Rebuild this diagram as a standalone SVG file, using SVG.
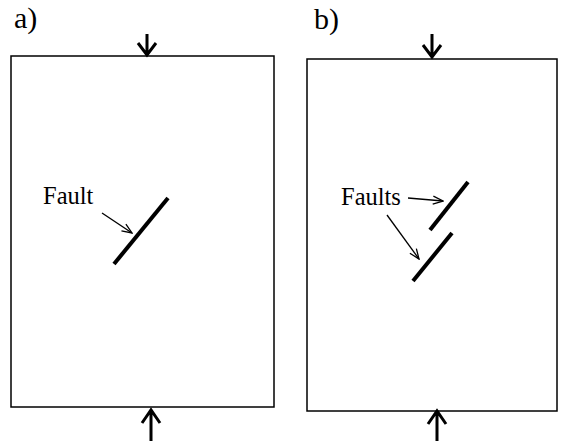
<svg xmlns="http://www.w3.org/2000/svg" width="567" height="441" viewBox="0 0 567 441">
<defs>
<style>
.box{fill:none;stroke:#000;stroke-width:1.5}
.load{fill:none;stroke:#000;stroke-width:3;stroke-linecap:butt;stroke-linejoin:miter}
.fault{stroke:#000;stroke-width:4}
.ptr{stroke:#000;stroke-width:1.3;fill:none}
text{font-family:"Liberation Serif","Times New Roman",serif;fill:#000}
.lbl{font-size:24.5px}
.pan{font-size:30px}
</style>
<marker id="ah" viewBox="0 0 12 10" refX="11" refY="5" markerWidth="12" markerHeight="10" markerUnits="userSpaceOnUse" orient="auto">
<path d="M1,1 L11,5 L1,9" fill="none" stroke="#000" stroke-width="1.3"/>
</marker>
</defs>
<rect width="567" height="441" fill="#fff"/>
<g id="panel-a">
<text class="pan" x="14" y="28">a)</text>
<rect class="box" x="11" y="56" width="263" height="351"/>
</g>
<g id="panel-b">
<text class="pan" x="314" y="29">b)</text>
<rect class="box" x="307" y="59" width="250" height="352"/>
</g>
<g id="fault-a">
<line class="fault" x1="114" y1="264" x2="168" y2="198"/>
<text class="lbl" x="43" y="204">Fault</text>
</g>
<g id="faults-b">
<line class="fault" x1="430" y1="230" x2="468" y2="182"/>
<line class="fault" x1="413" y1="281" x2="452" y2="233"/>
<text class="lbl" x="341" y="205">Faults</text>
</g>
<g id="connectors">
<path class="load" d="M147,34 V55 M138,43 L147,55 L156,43"/>
<path class="load" d="M151,441 V410 M142,423 L151,410 L160,423"/>
<path class="load" d="M432,34 V57 M423,45 L432,57 L441,45"/>
<path class="load" d="M437,441 V411 M428,424 L437,411 L446,424"/>
<line class="ptr" x1="102" y1="213" x2="132" y2="233" marker-end="url(#ah)"/>
<line class="ptr" x1="408" y1="198" x2="443" y2="201" marker-end="url(#ah)"/>
<line class="ptr" x1="387" y1="215" x2="419" y2="259" marker-end="url(#ah)"/>
</g>
</svg>
